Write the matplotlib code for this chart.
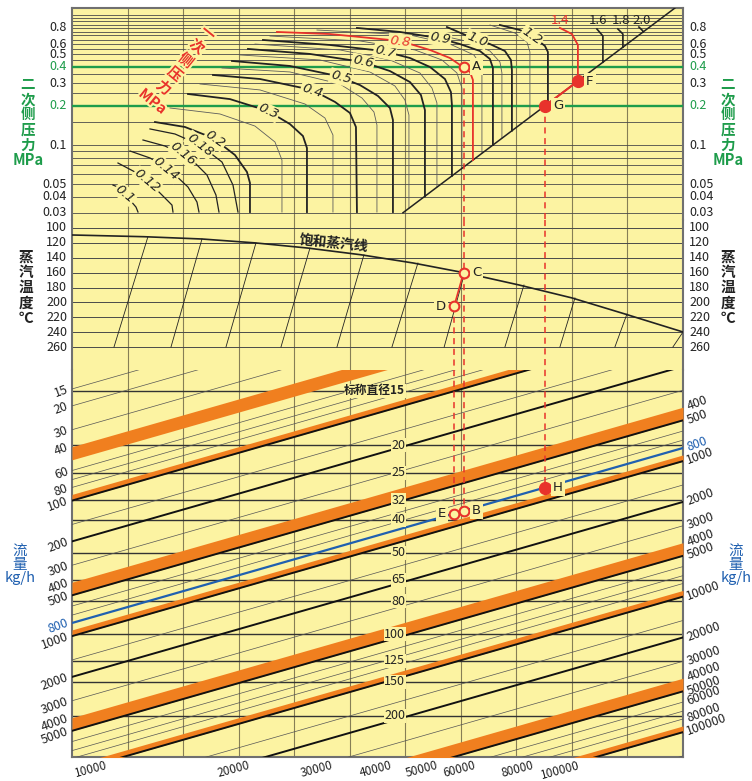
import math
import matplotlib
matplotlib.use('Agg')
import matplotlib.pyplot as plt
import matplotlib.transforms as mtransforms
from matplotlib import patheffects as pe
from matplotlib.ticker import NullLocator

plt.rcParams['font.family'] = ['Noto Sans CJK SC', 'DejaVu Sans']

YELLOW = '#FCF3A2'
RED = '#E8322B'
GREEN = '#1E9C4B'
BLUE = '#2060B0'
ORANGE = '#F07F1F'
GRID = '#867E55'
DARK = '#222222'

# ---------------- data: top panel (pressure) ----------------
p2_tick_vals = [0.03, 0.04, 0.05, 0.1, 0.2, 0.3, 0.4, 0.5, 0.6, 0.8]
p2_tick_text = ['0.03', '0.04', '0.05', '0.1', '0.2', '0.3', '0.4', '0.5', '0.6', '0.8']
p2_grid = [0.03, 0.04, 0.05, 0.06, 0.07, 0.08, 0.09, 0.1, 0.15, 0.2, 0.25, 0.3, 0.35,
           0.4, 0.45, 0.5, 0.55, 0.6, 0.65, 0.7, 0.75, 0.8, 0.85, 0.9, 0.95, 1.0]
p2_highlight = [0.2, 0.4]

p1_names = ['0.1', '0.12', '0.14', '0.16', '0.18', '0.2', '0.3', '0.4', '0.5', '0.6',
            '0.7', '0.8', '0.9', '1.0', '1.2', '1.4', '1.6', '1.8', '2.0']
p1_x = [
    [0.738, 0.864, 1.044, 1.152, 1.188],
    [0.828, 1.134, 1.44, 1.674, 1.80, 1.818],
    [1.044, 1.404, 1.764, 2.088, 2.25, 2.286],
    [1.278, 1.674, 2.124, 2.43, 2.592, 2.646],
    [1.404, 1.854, 2.304, 2.70, 2.898, 2.988],
    [1.494, 2.034, 2.538, 2.934, 3.15, 3.204, 3.204],
    [2.088, 2.844, 3.528, 3.924, 4.158, 4.23, 4.23],
    [2.538, 3.384, 4.32, 4.734, 5.004, 5.112, 5.13],
    [2.88, 3.924, 4.77, 5.184, 5.508, 5.724, 5.778, 5.778],
    [3.168, 4.284, 5.238, 5.724, 6.084, 6.282, 6.354, 6.354],
    [3.438, 4.644, 5.598, 6.084, 6.444, 6.714, 6.822, 6.84, 6.84],
    [3.69, 4.644, 5.904, 6.444, 6.804, 7.038, 7.164, 7.218, 7.218],
    [5.13, 5.904, 6.588, 6.984, 7.344, 7.524, 7.578, 7.578],
    [6.75, 7.164, 7.524, 7.794, 7.902, 7.92, 7.92],
    [7.704, 8.064, 8.334, 8.514, 8.568, 8.568],
    [8.784, 9.0, 9.108, 9.108],
    [9.45, 9.558, 9.558],
    [9.828, 9.918, 9.918],
    [10.206, 10.278, 10.278],
]
p1_p = [
    [0.0491, 0.0466, 0.0376, 0.0332, 0.0304],
    [0.0726, 0.0619, 0.0491, 0.039, 0.0344, 0.0304],
    [0.0899, 0.0794, 0.0641, 0.0474, 0.0363, 0.0304],
    [0.1093, 0.0982, 0.0794, 0.0587, 0.0411, 0.0304],
    [0.133, 0.1216, 0.10, 0.0739, 0.0491, 0.0304],
    [0.1504, 0.1377, 0.1132, 0.0837, 0.0619, 0.0509, 0.0304],
    [0.2475, 0.226, 0.183, 0.145, 0.1173, 0.0948, 0.0304],
    [0.347, 0.323, 0.266, 0.215, 0.1766, 0.1377, 0.0304],
    [0.445, 0.407, 0.341, 0.290, 0.239, 0.193, 0.156, 0.0304],
    [0.551, 0.504, 0.437, 0.372, 0.306, 0.243, 0.186, 0.0402],
    [0.646, 0.591, 0.531, 0.469, 0.40, 0.323, 0.256, 0.2035, 0.0578],
    [0.745, 0.718, 0.635, 0.541, 0.469, 0.40, 0.366, 0.3175, 0.0765],
    [0.80, 0.745, 0.669, 0.601, 0.531, 0.461, 0.393, 0.0999],
    [0.813, 0.681, 0.601, 0.531, 0.453, 0.379, 0.129],
    [0.843, 0.771, 0.669, 0.581, 0.522, 0.2085],
    [0.80, 0.718, 0.591, 0.311],
    [0.785, 0.693, 0.435],
    [0.785, 0.718, 0.568],
    [0.813, 0.758, 0.742],
]
p1_lw = [0.9, 0.9, 0.9, 0.9, 0.9, 1.3, 1.3, 1.3, 1.3, 1.3, 1.3, 1.3, 1.3, 1.3, 1.3, 1.3, 1.2, 1.2, 1.2]
p1_red = ['0.8', '1.4']
p1_label_x = [0.954, 1.35, 1.692, 1.998, 2.304, 2.574, 3.528, 4.32, 4.842, 5.238,
              5.634, 5.904, 6.624, 7.29, 8.28, 8.784, 9.468, 9.882, 10.26]
p1_label_p = [0.042, 0.0527, 0.066, 0.085, 0.10, 0.110, 0.181, 0.263, 0.332, 0.435,
              0.528, 0.63, 0.663, 0.655, 0.69, 0.921, 0.921, 0.921, 0.921]
p1_label_rot = [-40, -40, -40, -40, -38, -35, -25, -18, -15, -12, -12, -6, -10, -22, -35, 0, 0, 0, 0]

thin_x = [
    [1.764, 2.664, 3.294, 3.654, 3.78, 3.78],
    [2.304, 3.384, 4.194, 4.554, 4.698, 4.698],
    [2.70, 3.924, 4.824, 5.22, 5.436, 5.49, 5.49],
    [3.024, 4.464, 5.364, 5.814, 5.994, 6.066, 6.066],
    [3.294, 4.824, 5.724, 6.264, 6.48, 6.57, 6.57],
    [3.564, 5.184, 6.174, 6.66, 6.93, 7.02, 7.02],
    [4.41, 6.084, 6.804, 7.236, 7.38, 7.38],
    [6.444, 7.164, 7.524, 7.704, 7.74, 7.74],
    [7.524, 7.974, 8.19, 8.244, 8.244],
]
thin_p = [
    [0.193, 0.1735, 0.140, 0.1055, 0.0766, 0.0304],
    [0.2956, 0.266, 0.2072, 0.1615, 0.1194, 0.0304],
    [0.393, 0.366, 0.2956, 0.2305, 0.1797, 0.1427, 0.0304],
    [0.495, 0.453, 0.366, 0.2853, 0.2225, 0.1704, 0.0325],
    [0.601, 0.541, 0.453, 0.3594, 0.2753, 0.211, 0.0473],
    [0.693, 0.635, 0.541, 0.453, 0.3594, 0.2753, 0.066],
    [0.771, 0.706, 0.601, 0.495, 0.40, 0.0862],
    [0.731, 0.6235, 0.531, 0.437, 0.36, 0.1127],
    [0.843, 0.731, 0.6235, 0.522, 0.164],
]
diag_x = [5.958, 10.855]
diag_p = [0.03, 1.14]

# ---------------- data: middle panel (temperature) ----------------
temp_ticks = [100, 120, 140, 160, 180, 200, 220, 240, 260]
sat_x = [0, 1.296, 2.34, 3.294, 4.248, 5.202, 6.138, 7.05, 8.047, 9.0, 9.955, 11.0]
sat_t = [109.4, 111.7, 114.8, 120, 127, 136, 147, 160, 176.6, 194, 215.6, 239.8]
slant_top_x = [1.368, 2.34, 3.312, 4.284, 5.256, 6.228, 7.07, 8.137, 9.055, 9.991, 11.0]
slant_top_t = [111.5, 114.8, 120, 127, 136, 147, 160, 176.6, 194, 215.6, 239.8]
slant_bot_x = [0.756, 1.782, 2.772, 3.762, 4.77, 5.76, 6.70, 7.794, 8.784, 9.774, 10.818]
slant_bot_t = 260

# ---------------- data: bottom panel (flow, kg/h) ----------------
FLOW_SLOPE = 0.1174   # decades of flow per horizontal grid division
flow_thin = [15, 20, 30, 60, 70, 80, 150, 300, 600, 700, 1500, 3000, 6000, 7000, 8000,
             15000, 30000, 60000, 70000, 80000, 150000]
flow_bold = [100, 200, 500, 1000, 2000, 5000, 10000, 20000, 50000, 100000]
band_low = [40, 90, 400, 900, 4000, 9000, 40000, 90000]
band_high = [50, 100, 500, 1000, 5000, 10000, 50000, 100000]
flow_blue = 800
left_flow_labels = [15, 20, 30, 40, 60, 80, 100, 200, 300, 400, 500, 800, 1000, 2000, 3000, 4000, 5000]
right_flow_labels = [400, 500, 800, 1000, 2000, 3000, 4000, 5000, 10000, 20000, 30000,
                     40000, 50000, 60000, 80000, 100000]
bottom_flow_labels = [10000, 20000, 30000, 40000, 50000, 60000, 80000, 100000]
dn_names = ['标称直径15', '20', '25', '32', '40', '50', '65', '80', '100', '125', '150', '200']
dn_q = [15.5, 38.9, 62.5, 99, 139, 243, 385, 551, 965, 1525, 2180, 3886]

# ---------------- data: worked example ----------------
X_A, P_A = 7.05, 0.4
T_C, T_D = 160, 205
X_D = 6.88
X_G, P_G = 8.512, 0.2
X_F, P_F = 9.108, 0.311

# ---------------- figure ----------------
fig = plt.figure(figsize=(7.52, 7.81), dpi=100)
L, WD = 72 / 752, 611 / 752
def fy(px):
    return 1 - px / 781

ax_top = fig.add_axes([L, fy(220), WD, 212 / 781])
ax_mid = fig.add_axes([L, fy(370), WD, 150 / 781])
ax_bot = fig.add_axes([L, fy(757), WD, 387 / 781])
axes = [ax_top, ax_mid, ax_bot]

ax_top.set_yscale('log')
ax_top.set_ylim(0.02639, 1.14)
ax_mid.set_ylim(290.9, 89.25)
ax_bot.set_yscale('log')
ax_bot.set_ylim(7800, 10.87)

for ax in axes:
    ax.set_xlim(0, 11)
    ax.set_facecolor(YELLOW)
    ax.set_xticks([])
    ax.set_yticks([])
    ax.yaxis.set_minor_locator(NullLocator())
    for s in ax.spines.values():
        s.set_color('#707070')
        s.set_linewidth(1.5)
    for gx in range(1, 11):
        ax.axvline(gx, color=GRID, lw=0.8, zorder=1)
ax_top.spines['bottom'].set_visible(False)
ax_mid.spines['top'].set_visible(False)
ax_mid.spines['bottom'].set_visible(False)
ax_bot.spines['top'].set_visible(False)

def side_labels(ax, vals, texts, colors):
    tr = mtransforms.blended_transform_factory(ax.transAxes, ax.transData)
    for v, t, c in zip(vals, texts, colors):
        ax.text(-0.008, v, t, transform=tr, ha='right', va='center', fontsize=9, color=c)
        ax.text(1.010, v, t, transform=tr, ha='left', va='center', fontsize=9, color=c)

# ---- top panel ----
for p in p2_grid:
    ax_top.axhline(p, color='#4a4a4a', lw=0.6, zorder=2)
for p in p2_highlight:
    ax_top.axhline(p, color=GREEN, lw=1.7, zorder=3)
side_labels(ax_top, p2_tick_vals, p2_tick_text,
            [GREEN if v in p2_highlight else DARK for v in p2_tick_vals])

for xs, ps in zip(thin_x, thin_p):
    ax_top.plot(xs, ps, color='#5c5c5c', lw=0.6, zorder=4)
ax_top.plot(diag_x, diag_p, color=DARK, lw=1.1, zorder=4)
for name, xs, ps, lw in zip(p1_names, p1_x, p1_p, p1_lw):
    c = RED if name in p1_red else DARK
    ax_top.plot(xs, ps, color=c, lw=lw, zorder=5)
for name, lx, lp, rot in zip(p1_names, p1_label_x, p1_label_p, p1_label_rot):
    c = RED if name in p1_red else DARK
    if rot == 0:
        ax_top.text(lx, lp, name, ha='center', va='center', fontsize=9.5, color=c, zorder=7)
    else:
        ax_top.text(lx, lp, name, ha='center', va='center', fontsize=9.5, color=c,
                    rotation=rot, style='italic', family='DejaVu Sans', zorder=7,
                    bbox=dict(boxstyle='square,pad=0.08', fc=YELLOW, ec='none'))
ax_top.text(1.96, 0.40, '一\n次\n侧\n压\n力\nMPa', rotation=-39, ha='center', va='center',
            fontsize=10.5, color=RED, fontweight='bold', linespacing=1.12, zorder=8,
            path_effects=[pe.withStroke(linewidth=3, foreground=YELLOW)])

# ---- middle panel ----
for t in temp_ticks:
    ax_mid.axhline(t, color='#4a4a4a', lw=0.7, zorder=2)
side_labels(ax_mid, temp_ticks, [str(t) for t in temp_ticks], [DARK] * len(temp_ticks))
ax_mid.plot(sat_x, sat_t, color=DARK, lw=1.2, zorder=5)
for tx, tt, bx in zip(slant_top_x, slant_top_t, slant_bot_x):
    ax_mid.plot([tx, bx], [tt, slant_bot_t], color=DARK, lw=0.6, zorder=4)
ax_mid.text(4.72, 121, '饱和蒸汽线', rotation=-6, ha='center', va='center', fontsize=10,
            fontweight='bold', color=DARK, zorder=7)

# ---- bottom panel ----
xs_full = [0, 11]
def flow_curve(w):
    return [w * 10 ** (-FLOW_SLOPE * x) for x in xs_full]

for q, name in zip(dn_q, dn_names):
    ax_bot.axhline(q, color='#333333', lw=1.0, zorder=2)
    ax_bot.text(6.0, q, name, ha='right', va='center', fontsize=8.5 if len(name) > 3 else 9,
                fontweight='bold' if len(name) > 3 else 'normal', color=DARK, zorder=8,
                bbox=dict(boxstyle='square,pad=0.05', fc=YELLOW, ec='none'))
for lo, hi in zip(band_low, band_high):
    ax_bot.fill_between(xs_full, flow_curve(lo), flow_curve(hi), color=ORANGE, lw=0, zorder=3)
for w in flow_thin:
    ax_bot.plot(xs_full, flow_curve(w), color='#555555', lw=0.5, zorder=4)
for w in flow_bold:
    ax_bot.plot(xs_full, flow_curve(w), color='#111111', lw=1.4, zorder=5)
ax_bot.plot(xs_full, flow_curve(flow_blue), color=BLUE, lw=1.6, zorder=5)

for w in left_flow_labels:
    ax_bot.annotate(str(w), (0, w), xytext=(-3, 0), textcoords='offset points',
                    ha='right', va='center', rotation=20, rotation_mode='anchor',
                    fontsize=9, color=BLUE if w == flow_blue else DARK, annotation_clip=False)
for w in right_flow_labels:
    ax_bot.annotate(str(w), (11, flow_curve(w)[1]), xytext=(3, 0), textcoords='offset points',
                    ha='left', va='center', rotation=20, rotation_mode='anchor',
                    fontsize=9, color=BLUE if w == flow_blue else DARK, annotation_clip=False)
q_bottom = ax_bot.get_ylim()[0]
for w in bottom_flow_labels:
    xb = math.log10(w / q_bottom) / FLOW_SLOPE
    ax_bot.annotate(str(w), (xb, q_bottom), xytext=(-13, -1.5), textcoords='offset points',
                    ha='right', va='top', rotation=15, rotation_mode='anchor',
                    fontsize=8.5, color=DARK, annotation_clip=False)

# ---- worked example ----
dash = dict(color=RED, lw=1.1, linestyle=(0, (4, 3)), zorder=6)
top_lo = ax_top.get_ylim()[0]
ax_top.plot([X_A, X_A], [P_A, top_lo], **dash)
ax_top.plot([X_G, X_G], [P_G, top_lo], **dash)
mlo, mhi = ax_mid.get_ylim()
ax_mid.plot([X_A, X_A], [mhi, mlo], **dash)
ax_mid.plot([X_D, X_D], [T_D, mlo], **dash)
ax_mid.plot([X_G, X_G], [mhi, mlo], **dash)
q_B = flow_curve(flow_blue)[0] * 10 ** (-FLOW_SLOPE * X_A)
q_E = flow_curve(flow_blue)[0] * 10 ** (-FLOW_SLOPE * X_D)
q_H = flow_curve(flow_blue)[0] * 10 ** (-FLOW_SLOPE * X_G)
btop = ax_bot.get_ylim()[1]
ax_bot.plot([X_A, X_A], [btop, q_B], **dash)
ax_bot.plot([X_D, X_D], [btop, q_E], **dash)
ax_bot.plot([X_G, X_G], [btop, q_H], **dash)

ax_mid.plot([X_A, X_D], [T_C, T_D], color=RED, lw=1.2, zorder=6)
ax_top.plot([X_F, X_G], [P_F, P_G], color=RED, lw=1.5, zorder=6)

open_m = dict(marker='o', ms=7, mfc=YELLOW, mec=RED, mew=1.5, zorder=9, ls='none')
fill_m = dict(marker='o', ms=8.5, mfc=RED, mec=RED, zorder=9, ls='none')
ax_top.plot([X_A], [P_A], **open_m)
ax_top.plot([X_G], [P_G], **fill_m)
ax_top.plot([X_F], [P_F], **fill_m)
ax_mid.plot([X_A], [T_C], **open_m)
ax_mid.plot([X_D], [T_D], **open_m)
ax_bot.plot([X_A], [q_B], **open_m)
ax_bot.plot([X_D], [q_E], **open_m)
ax_bot.plot([X_G], [q_H], **fill_m)

lbl = dict(fontsize=9.5, color=DARK, va='center', textcoords='offset points', zorder=10,
           family='DejaVu Sans',
           bbox=dict(boxstyle='square,pad=0.15', fc=YELLOW, ec='none'))
ax_top.annotate('A', (X_A, P_A), xytext=(6, 0), ha='left', **lbl)
ax_top.annotate('G', (X_G, P_G), xytext=(6, 0), ha='left', **lbl)
ax_top.annotate('F', (X_F, P_F), xytext=(6, 0), ha='left', **lbl)
ax_mid.annotate('C', (X_A, T_C), xytext=(6, 0), ha='left', **lbl)
ax_mid.annotate('D', (X_D, T_D), xytext=(-6, 0), ha='right', **lbl)
ax_bot.annotate('B', (X_A, q_B), xytext=(6, 0), ha='left', **lbl)
ax_bot.annotate('E', (X_D, q_E), xytext=(-6, 0), ha='right', **lbl)
ax_bot.annotate('H', (X_G, q_H), xytext=(6, 0), ha='left', **lbl)

# ---- side titles ----
ttl = dict(ha='center', va='center', fontsize=10.5, linespacing=0.95, fontweight='bold')
fig.text(28 / 752, fy(122), '二\n次\n侧\n压\n力\nMPa', color=GREEN, **ttl)
fig.text(728 / 752, fy(122), '二\n次\n侧\n压\n力\nMPa', color=GREEN, **ttl)
fig.text(26 / 752, fy(287), '蒸\n汽\n温\n度\n℃', color=DARK, **ttl)
fig.text(728 / 752, fy(287), '蒸\n汽\n温\n度\n℃', color=DARK, **ttl)
ttl_n = dict(ttl, fontweight='normal')
fig.text(20 / 752, fy(565), '流\n量\nkg/h', color=BLUE, **ttl_n)
fig.text(736 / 752, fy(565), '流\n量\nkg/h', color=BLUE, **ttl_n)

fig.savefig('out.png', dpi=100, facecolor='white')
